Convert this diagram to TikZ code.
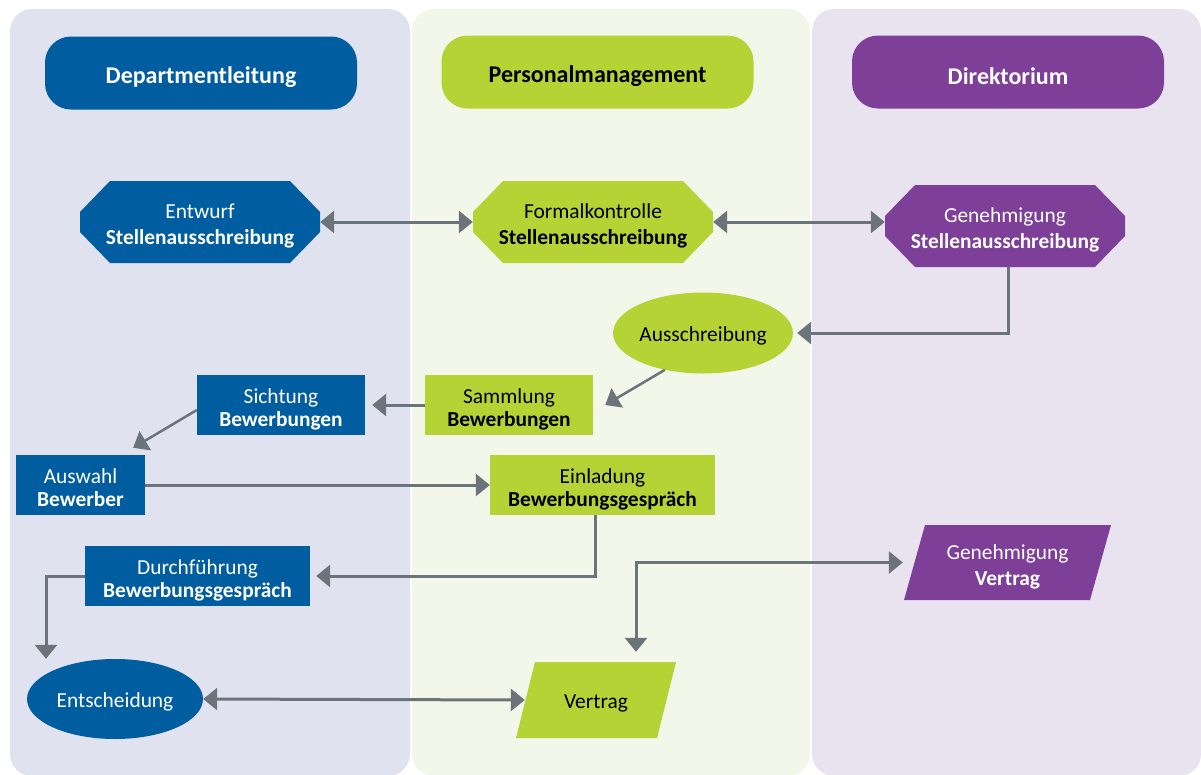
\documentclass[tikz,border=0pt]{standalone}
\usepackage{fontspec}
\setmainfont{Carlito}
\usetikzlibrary{arrows.meta,calc,shapes.geometric}
\definecolor{laneA}{RGB}{225,226,239}
\definecolor{laneB}{RGB}{243,247,233}
\definecolor{laneC}{RGB}{233,227,240}
\definecolor{cblue}{RGB}{0,93,160}
\definecolor{cgreen}{RGB}{181,211,52}
\definecolor{cpurple}{RGB}{125,63,152}
\definecolor{cgray}{RGB}{107,116,123}
\newcommand{\topstrut}{\rule{0pt}{24pt}}
\tikzset{
  lbl/.style={align=center, inner sep=0pt, font=\fontsize{21.4}{26}\selectfont,
    execute at begin node={\rule{0pt}{22pt}},
    execute at end node={\rule[-5pt]{0pt}{5pt}}},
  header/.style={align=center, inner sep=0pt, rounded corners=26pt, minimum width=312pt, minimum height=73pt,
    font=\fontsize{24}{28}\selectfont\bfseries, execute at begin node={\rule{0pt}{25pt}}},
  octbox/.style={lbl, minimum width=240pt, minimum height=82pt,
    path picture={\fill[#1]
      ([xshift=30pt]path picture bounding box.north west) --
      ([xshift=-30pt]path picture bounding box.north east) --
      ([yshift=-31pt]path picture bounding box.north east) --
      ([yshift=31pt]path picture bounding box.south east) --
      ([xshift=-30pt]path picture bounding box.south east) --
      ([xshift=30pt]path picture bounding box.south west) --
      ([yshift=31pt]path picture bounding box.south west) --
      ([yshift=-31pt]path picture bounding box.north west) -- cycle;}},
  parabox/.style n args={2}{lbl,
    path picture={\fill[#1]
      ([xshift=#2]path picture bounding box.north west) --
      (path picture bounding box.north east) --
      ([xshift=-#2]path picture bounding box.south east) --
      (path picture bounding box.south west) -- cycle;}},
  recbox/.style={lbl, minimum height=60pt, font=\fontsize{21.4}{23}\selectfont},
  ovalbox/.style={lbl, ellipse, minimum width=176pt, minimum height=81pt, inner sep=0pt},
  onblue/.style={fill=cblue, text=white},
  ongreen/.style={fill=cgreen, text=black},
  onpurple/.style={fill=cpurple, text=white},
  conn/.style={draw=cgray, line width=3pt, -{Triangle[length=14pt,width=22pt]}},
  bconn/.style={draw=cgray, line width=3pt, {Triangle[length=14pt,width=22pt]}-{Triangle[length=14pt,width=22pt]}}
}
\begin{document}
\begin{tikzpicture}[x=1pt,y=-1pt]
\useasboundingbox (0,0) rectangle (1201,774);
% lanes
\fill[laneA, rounded corners=22pt] (10,9) rectangle (410,776);
\fill[laneB, rounded corners=22pt] (412,9) rectangle (810,776);
\fill[laneC, rounded corners=22pt] (812,9) rectangle (1201,776);
% headers
\node[header, onblue] (hA) at (201,73) {Departmentleitung};
\node[header, ongreen] (hB) at (597.5,72) {Personalmanagement};
\node[header, onpurple] (hC) at (1008,72) {Direktorium};
% row 1
\node[octbox=cblue, text=white] (entw) at (200,222) {\topstrut Entwurf\\\textbf{Stellenausschreibung}};
\node[octbox=cgreen, text=black] (form) at (593,222) {\topstrut Formalkontrolle\\\textbf{Stellenausschreibung}};
\node[octbox=cpurple, text=white] (gens) at (1005,226) {\topstrut Genehmigung\\\textbf{Stellenausschreibung}};
% Ausschreibung
\node[ovalbox, ongreen] (aus) at (703,333) {Ausschreibung};
% row 3
\node[recbox, ongreen, minimum width=168pt] (samm) at (509,405) {\topstrut Sammlung\\\textbf{Bewerbungen}};
\node[recbox, onblue, minimum width=168pt] (sich) at (281,405) {\topstrut Sichtung\\\textbf{Bewerbungen}};
% row 4
\node[recbox, onblue, minimum width=129pt] (ausw) at (80.5,485) {\topstrut Auswahl\\\textbf{Bewerber}};
\node[recbox, ongreen, minimum width=225pt] (einl) at (602.5,485) {\topstrut Einladung\\\textbf{Bewerbungsgespräch}};
% row 5
\node[recbox, onblue, minimum width=225pt] (durch) at (197.5,576) {\topstrut Durchführung\\\textbf{Bewerbungsgespräch}};
\node[parabox={cpurple}{21pt}, text=white, minimum width=207pt, minimum height=75pt] (genv) at (1007.5,562.5) {\topstrut Genehmigung\\\textbf{Vertrag}};
% row 6
\node[ovalbox, onblue, minimum height=80pt] (ents) at (115,699) {Entscheidung};
\node[parabox={cgreen}{19pt}, text=black, minimum width=160pt, minimum height=76pt] (vert) at (596,700) {Vertrag};
% connectors
\draw[bconn] (entw.east) -- (form.west);
\draw[bconn] (form.east) -- (form.east -| gens.west);
\draw[conn, shorten >=4pt] ([xshift=3pt]gens.south) |- (aus.east);
\draw[conn, line width=2.5pt] (aus.224) -- ([xshift=12pt]samm.east);
\draw[conn, shorten >=7pt] (samm.west) -- (sich.east);
\draw[conn, line width=2.5pt] ([yshift=-5pt]sich.west) -- ([xshift=-12pt,yshift=7pt]ausw.north east);
\draw[conn] (ausw.east) -- (einl.west);
\draw[conn, shorten >=6pt] ([xshift=-7pt]einl.south) |- (durch.east);
\draw[conn] (durch.west) -| ([xshift=-69pt]ents.north);
\draw[bconn] (ents.east) -- ([xshift=9pt]vert.west);
\draw[bconn, shorten >=1pt] ([xshift=40pt,yshift=10pt]vert.north) |- (genv.west);
\end{tikzpicture}
\end{document}
